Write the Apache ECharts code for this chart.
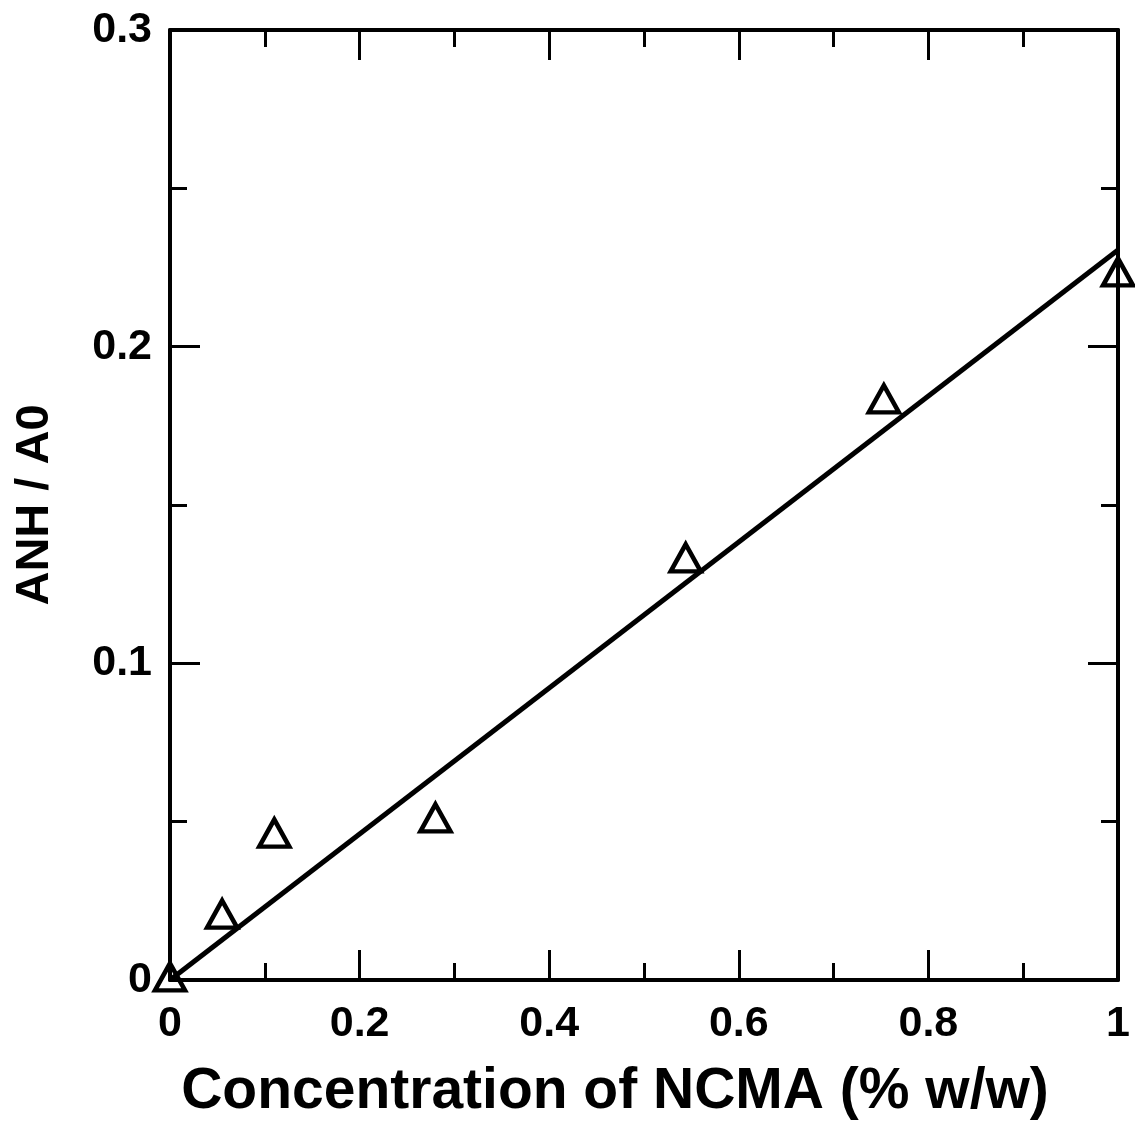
<!DOCTYPE html>
<html><head><meta charset="utf-8">
<script src="https://cdn.jsdelivr.net/npm/echarts@6/dist/echarts.min.js"></script>
<style>html,body{margin:0;padding:0;background:#fff}#c{width:1135px;height:1122px}</style>
</head><body><div id="c"></div>
<script>
const xValues = [0, 0.055, 0.11, 0.28, 0.544, 0.753, 1.0];
const yValues = [0.001, 0.0208, 0.0464, 0.0512, 0.1333, 0.1835, 0.2236];
const fitX = [0, 1];
const fitY = [0, 0.2305];
const xTitle = 'Concentration of NCMA (% w/w)';
const yTitle = 'ANH / A0';

const font = 'Liberation Sans, Arial, sans-serif';
function axisCommon(showLabel) {
  return {
    axisLine: {show: true, onZero: false, lineStyle: {color: '#000', width: 4}},
    axisTick: {show: true, inside: true, length: 30, lineStyle: {color: '#000', width: 3}},
    minorTick: {show: true, splitNumber: 2, length: 17, lineStyle: {color: '#000', width: 3}},
    splitLine: {show: false},
    axisLabel: {show: showLabel, color: '#000', fontFamily: font, fontWeight: 'bold', fontSize: 43}
  };
}
const chart = echarts.init(document.getElementById('c'));
chart.setOption({
  animation: false,
  backgroundColor: '#fff',
  grid: {left: 170, right: 17, top: 30, bottom: 142, containLabel: false, outerBoundsMode: 'none'},
  xAxis: [
    Object.assign({type: 'value', min: 0, max: 1, interval: 0.2, position: 'bottom',
      name: xTitle, nameLocation: 'middle', nameGap: 84,
      nameTextStyle: {color: '#000', fontFamily: font, fontWeight: 'bold', fontSize: 57, padding: [0, 58, 0, 0]}}, axisCommon(true),
      {axisLabel: {show: true, color: '#000', fontFamily: font, fontWeight: 'bold', fontSize: 43, margin: 23}}),
    Object.assign({type: 'value', min: 0, max: 1, interval: 0.2, position: 'top'}, axisCommon(false))
  ],
  yAxis: [
    Object.assign({type: 'value', min: 0, max: 0.3, interval: 0.1, position: 'left',
      name: yTitle, nameLocation: 'middle', nameGap: 111, nameRotate: 90,
      nameTextStyle: {color: '#000', fontFamily: font, fontWeight: 'bold', fontSize: 47}}, axisCommon(true),
      {axisLabel: {show: true, color: '#000', fontFamily: font, fontWeight: 'bold', fontSize: 43, margin: 18}}),
    Object.assign({type: 'value', min: 0, max: 0.3, interval: 0.1, position: 'right'}, axisCommon(false))
  ],
  series: [
    {type: 'line', data: fitX.map((x, i) => [x, fitY[i]]), showSymbol: false, symbol: 'none',
     lineStyle: {color: '#000', width: 5}, z: 2},
    {type: 'scatter', data: xValues.map((x, i) => [x, yValues[i]]), symbol: 'triangle', symbolSize: [30, 27],
     itemStyle: {color: 'rgba(0,0,0,0)', borderColor: '#000', borderWidth: 4.5, opacity: 1}, z: 3}
  ]
});
</script></body></html>
